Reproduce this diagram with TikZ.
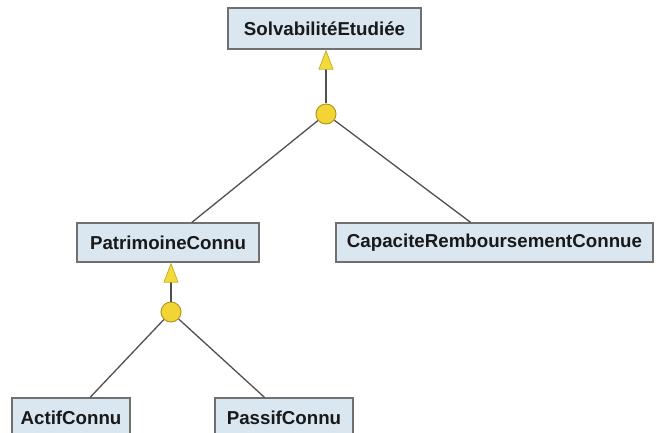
\documentclass[tikz,border=0pt]{standalone}
\usepackage{fontspec}
\setmainfont{Liberation Sans}
\usetikzlibrary{arrows.meta,calc}
\definecolor{boxfill}{HTML}{DAE6F0}
\definecolor{boxedge}{HTML}{707070}
\definecolor{linegray}{HTML}{505050}
\definecolor{dotfill}{HTML}{F2D435}
\definecolor{dotedge}{HTML}{B09A20}
\definecolor{tipfill}{HTML}{F4DB3C}
\definecolor{tipedge}{HTML}{C8B028}
\begin{document}
\begin{tikzpicture}[x=1pt,y=-1pt,
  concept/.style={draw=boxedge,line width=1.2pt,fill=boxfill,inner sep=0pt,
    font=\fontsize{18.7}{18.7}\bfseries\selectfont,text=black!90},
  junction/.style={circle,draw=dotedge,line width=1pt,fill=dotfill,
    minimum size=20pt,inner sep=0pt},
  conn/.style={draw=linegray,line width=1.3pt},
  refine/.style={conn,-{Triangle[length=20pt,width=15pt,color=tipedge,fill=tipfill,line width=0.8pt]}}]
\useasboundingbox (0,0) rectangle (658,433);

% concepts
\node[concept,minimum width=193pt,minimum height=41pt] (solv) at (324.5,28.5) {SolvabilitéEtudiée};
\node[concept,minimum width=182pt,minimum height=39pt] (patr) at (168,242.5) {PatrimoineConnu};
\node[concept,minimum width=317pt,minimum height=39pt] (cap) at (494.5,242.5) {CapaciteRemboursementConnue};
\node[concept,minimum width=118pt,minimum height=39pt] (actif) at (71,417.5) {ActifConnu};
\node[concept,minimum width=138pt,minimum height=39pt] (passif) at (284,417.5) {PassifConnu};

% AND-decomposition junctions
\node[junction] (j1) at (326,114) {};
\node[junction] (j2) at (171,312) {};

% refinement links
\draw[refine] (j1) -- (j1 |- solv.south);
\draw[refine] (j2) -- (j2 |- patr.south);

% sub-goals
\draw[conn] (j1) -- ($(patr.north west)!0.63!(patr.north east)$);
\draw[conn] (j1) -- ($(cap.north west)!0.425!(cap.north east)$);
\draw[conn] (j2) -- ($(actif.north west)!0.66!(actif.north east)$);
\draw[conn] (j2) -- ($(passif.north west)!0.36!(passif.north east)$);
\end{tikzpicture}
\end{document}
